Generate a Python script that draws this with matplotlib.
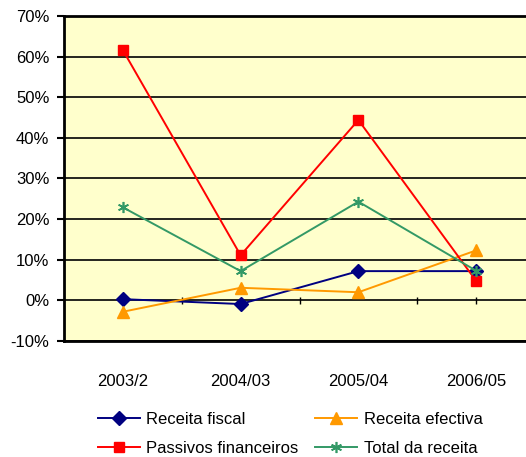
import matplotlib
matplotlib.use("Agg")
import matplotlib.pyplot as plt
from matplotlib.ticker import FuncFormatter

plt.rcParams['font.family'] = ['Liberation Sans', 'DejaVu Sans']

periods = ["2003/2", "2004/03", "2005/04", "2006/05"]
receita_fiscal = [0.3, -0.9, 7.2, 7.2]
receita_efectiva = [-2.8, 3.1, 2.0, 12.3]
passivos_financeiros = [61.6, 11.1, 44.4, 4.8]
total_receita = [22.9, 7.2, 24.3, 7.3]
y_ticks = [-10, 0, 10, 20, 30, 40, 50, 60, 70]

W, H = 526, 457
fig = plt.figure(figsize=(W / 100, H / 100), dpi=100)
left, right, top, bottom = 64, 535, 16, 341
ax = fig.add_axes([left / W, (H - bottom) / H, (right - left) / W, (bottom - top) / H])
ax.set_facecolor("#FFFFCC")

x = list(range(len(periods)))
h_fiscal, = ax.plot(x, receita_fiscal, color="#000080", lw=1.4, marker="D",
                    markersize=7, label="Receita fiscal", zorder=3)
h_efect, = ax.plot(x, receita_efectiva, color="#FF9900", lw=1.4, marker="^",
                   markersize=9, label="Receita efectiva", zorder=3)
h_pass, = ax.plot(x, passivos_financeiros, color="#FF0000", lw=1.4, marker="s",
                  markersize=7.5, label="Passivos financeiros", zorder=3)
h_total, = ax.plot(x, total_receita, color="#339966", lw=1.4, marker=(6, 2, 0),
                   markersize=8, markeredgewidth=1.2, label="Total da receita", zorder=3)

ax.set_xlim(-0.5, len(periods) - 0.5)
ax.set_ylim(-10, 70)
ax.set_yticks(y_ticks)
ax.yaxis.set_major_formatter(FuncFormatter(lambda v, p: f"{v:.0f}%"))
ax.grid(axis="y", color="black", lw=1.2, zorder=1)
ax.set_axisbelow(True)

ax.set_xticks(x)
ax.set_xticklabels(periods)
ax.tick_params(axis="x", length=0, pad=24, labelsize=12)
ax.tick_params(axis="y", length=5, width=1.5, pad=5.5, labelsize=12, direction="out")

# small category ticks along the zero line
ax.vlines([0.5, 1.5, 2.5, 3.0], -0.8, 0.8, color="black", lw=1, zorder=2)

for side in ["left", "bottom", "top"]:
    ax.spines[side].set_linewidth(2)
    ax.spines[side].set_color("black")
ax.spines["right"].set_visible(False)

handles = [h_fiscal, h_pass, h_efect, h_total]
fig.legend(handles=handles, labels=[h.get_label() for h in handles],
           ncol=2, frameon=False, fontsize=12, loc="upper left",
           bbox_to_anchor=(98 / W, 1 - 412 / H), borderpad=0, borderaxespad=0,
           handlelength=2.5, handletextpad=0.4, columnspacing=1.0,
           labelspacing=0.85)

fig.savefig("out.png", dpi=100, facecolor="white")
